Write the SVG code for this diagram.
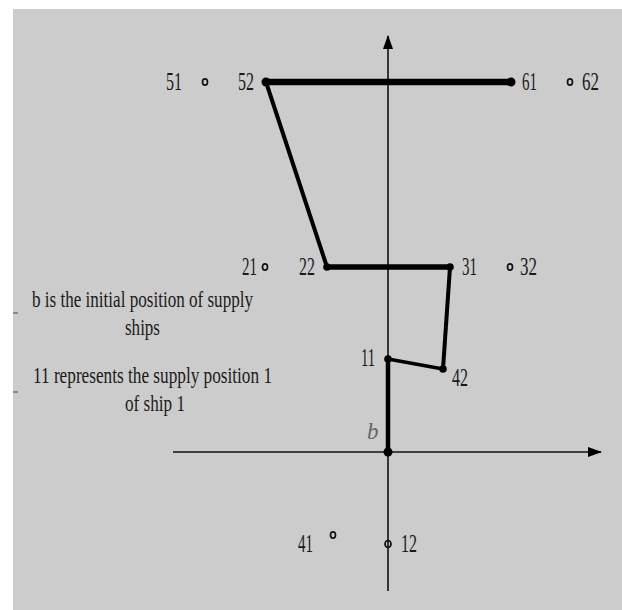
<svg xmlns="http://www.w3.org/2000/svg" width="622" height="610" viewBox="0 0 622 610">
<style>
.lbl{font-family:"Liberation Serif","Times New Roman",serif;font-size:25px;fill:#1a1a1a}
.txt{font-family:"Liberation Serif","Times New Roman",serif;font-size:23px;fill:#1a1a1a}
.open{fill:none;stroke:#111;stroke-width:1.7}
.dot{fill:#000}
.axis{stroke:#111;stroke-width:1.6;fill:none}
.route{stroke:#000;fill:none;stroke-linecap:round;stroke-linejoin:round}
</style>
<defs>
<marker id="ah" viewBox="0 0 14 10" refX="13" refY="5" markerWidth="14" markerHeight="10" markerUnits="userSpaceOnUse" orient="auto">
<path d="M0,0 L14,5 L0,10 Z" fill="#000"/>
</marker>
</defs>
<rect x="0" y="0" width="622" height="610" fill="#ffffff"/>
<rect x="13" y="9" width="609" height="601" fill="#cccccc"/>

<g id="connectors">
<line class="axis" x1="173" y1="452" x2="601" y2="452" marker-end="url(#ah)"/>
<line class="axis" x1="388" y1="591" x2="388" y2="36" marker-end="url(#ah)"/>
<line class="route" x1="266" y1="82" x2="511" y2="82" stroke-width="6.5"/>
<line class="route" x1="266" y1="82" x2="327" y2="267" stroke-width="4"/>
<line class="route" x1="327" y1="267" x2="450" y2="267" stroke-width="5.5"/>
<line class="route" x1="450" y1="267" x2="443" y2="369" stroke-width="4"/>
<line class="route" x1="443" y1="369" x2="388" y2="359" stroke-width="3.5"/>
<line class="route" x1="388" y1="359" x2="388" y2="452" stroke-width="4.5"/>
</g>

<g id="node-51"><ellipse class="open" cx="205" cy="82" rx="2.5" ry="3.2"/><text class="lbl" x="166" y="90" textLength="16" lengthAdjust="spacingAndGlyphs">51</text></g>
<g id="node-52"><circle class="dot" cx="266" cy="82" r="4.5"/><text class="lbl" x="238" y="90" textLength="16" lengthAdjust="spacingAndGlyphs">52</text></g>
<g id="node-61"><circle class="dot" cx="511" cy="82" r="4.5"/><text class="lbl" x="522" y="90" textLength="15" lengthAdjust="spacingAndGlyphs">61</text></g>
<g id="node-62"><ellipse class="open" cx="570" cy="82" rx="2.5" ry="3.2"/><text class="lbl" x="582" y="90" textLength="17" lengthAdjust="spacingAndGlyphs">62</text></g>
<g id="node-21"><ellipse class="open" cx="265" cy="267" rx="2.5" ry="3.2"/><text class="lbl" x="242" y="275" textLength="15" lengthAdjust="spacingAndGlyphs">21</text></g>
<g id="node-22"><circle class="dot" cx="327" cy="267" r="3.8"/><text class="lbl" x="299" y="275" textLength="16" lengthAdjust="spacingAndGlyphs">22</text></g>
<g id="node-31"><circle class="dot" cx="450" cy="267" r="3.8"/><text class="lbl" x="462" y="275" textLength="15" lengthAdjust="spacingAndGlyphs">31</text></g>
<g id="node-32"><ellipse class="open" cx="510" cy="267" rx="2.5" ry="3.2"/><text class="lbl" x="520" y="275" textLength="17" lengthAdjust="spacingAndGlyphs">32</text></g>
<g id="node-11"><circle class="dot" cx="388" cy="359" r="3.8"/><text class="lbl" x="361" y="366" textLength="14" lengthAdjust="spacingAndGlyphs">11</text></g>
<g id="node-42"><circle class="dot" cx="443" cy="369" r="3.8"/><text class="lbl" x="452" y="386" textLength="16" lengthAdjust="spacingAndGlyphs">42</text></g>
<g id="node-b"><circle class="dot" cx="388" cy="452" r="4.5"/><text x="367" y="439" font-family="'Liberation Serif','Times New Roman',serif" font-size="23" font-style="italic" fill="#666">b</text></g>
<g id="node-41"><ellipse class="open" cx="333" cy="535" rx="2.5" ry="3.2"/><text class="lbl" x="298" y="552" textLength="15" lengthAdjust="spacingAndGlyphs">41</text></g>
<g id="node-12"><ellipse class="open" cx="388" cy="544" rx="3" ry="3.5" fill="#cccccc"/><text class="lbl" x="401" y="552" textLength="16" lengthAdjust="spacingAndGlyphs">12</text></g>

<g id="legend">
<line x1="13" y1="313" x2="18" y2="313" stroke="#444" stroke-width="1"/>
<text class="txt" x="32" y="307" textLength="221" lengthAdjust="spacingAndGlyphs">b is the initial position of supply</text>
<text class="txt" x="125" y="335" textLength="35" lengthAdjust="spacingAndGlyphs">ships</text>
<line x1="13" y1="392" x2="18" y2="392" stroke="#444" stroke-width="1"/>
<text class="txt" x="33" y="383" textLength="239" lengthAdjust="spacingAndGlyphs">11 represents the supply position 1</text>
<text class="txt" x="125" y="411" textLength="60" lengthAdjust="spacingAndGlyphs">of ship 1</text>
</g>
</svg>
